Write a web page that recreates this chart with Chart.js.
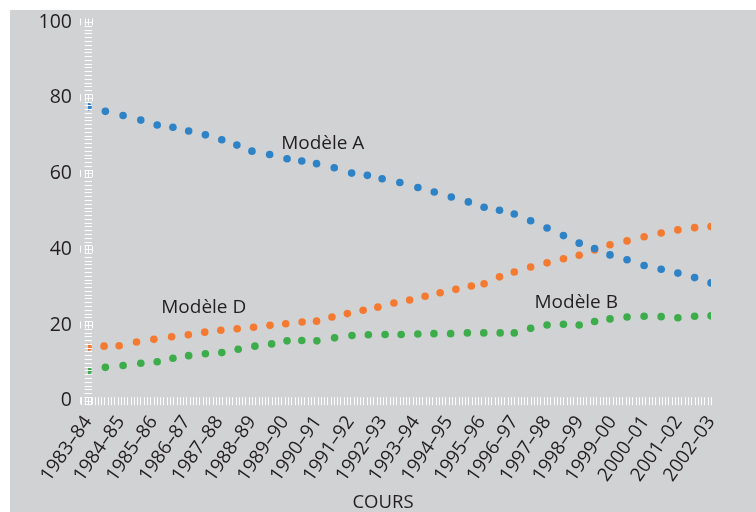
<!DOCTYPE html>
<html>
<head>
<meta charset="utf-8">
<script src="https://cdn.jsdelivr.net/npm/chart.js@4"></script>
<style>
    body { margin: 0; background: #ffffff; }
    #wrap { position: absolute; left: 10px; top: 10px; width: 746px; height: 502px; background: #d1d2d4; }
</style>
</head>
<body>
<div id="wrap"><canvas id="chart" width="746" height="502"></canvas></div>
<script>
// Season labels on the x axis
const seasons = ["1983–84", "1984–85", "1985–86", "1986–87", "1987–88", "1988–89", "1989–90",
    "1990–91", "1991–92", "1992–93", "1993–94", "1994–95", "1995–96", "1996–97", "1997–98",
    "1998–99", "1999–00", "2000–01", "2001–02", "2002–03"];

const yTicks = [0, 20, 40, 60, 80, 100];

// x positions (in seasons from 1983-84) and values of each series
const xModeleA = [0, 0.53, 1.07, 1.61, 2.11, 2.59, 3.07, 3.58, 4.08, 4.54, 5.0, 5.54, 6.07, 6.52, 6.97,
    7.51, 8.04, 8.52, 8.97, 9.51, 10.06, 10.56, 11.08, 11.6, 12.08, 12.55, 13.0, 13.5, 14.0, 14.5,
    14.98, 15.45, 15.92, 16.44, 16.96, 17.48, 17.99, 18.5, 19.0];
const modeleA = [77.6, 76.4, 75.3, 74.1, 72.8, 72.2, 71.2, 70.2, 68.9, 67.5, 65.9, 65.0, 63.9, 63.3, 62.6,
    61.5, 60.1, 59.5, 58.6, 57.6, 56.3, 55.1, 53.8, 52.5, 51.1, 50.3, 49.3, 47.5, 45.6, 43.6,
    41.6, 40.2, 38.5, 37.2, 35.7, 34.7, 33.7, 32.5, 31.1];

const xModeleB = [0, 0.53, 1.07, 1.61, 2.11, 2.59, 3.07, 3.58, 4.08, 4.58, 5.09, 5.6, 6.07, 6.52, 6.98,
    7.52, 8.05, 8.55, 9.06, 9.55, 10.06, 10.55, 11.06, 11.57, 12.07, 12.57, 13.0, 13.5, 14.0, 14.5,
    14.98, 15.45, 15.92, 16.44, 16.96, 17.48, 17.99, 18.5, 19.0];
const modeleB = [7.9, 8.8, 9.3, 9.9, 10.3, 11.2, 11.9, 12.4, 12.7, 13.6, 14.4, 15.0, 15.8, 15.9, 15.8,
    16.6, 17.2, 17.4, 17.5, 17.5, 17.6, 17.7, 17.7, 17.9, 17.9, 17.9, 17.9, 19.1, 20.0, 20.2,
    20.0, 20.9, 21.6, 22.1, 22.3, 22.2, 21.9, 22.3, 22.4];

const xModeleD = [0, 0.49, 0.95, 1.48, 2.01, 2.55, 3.06, 3.56, 4.05, 4.55, 5.05, 5.55, 6.03, 6.53, 6.97,
    7.44, 7.91, 8.39, 8.84, 9.33, 9.81, 10.28, 10.74, 11.22, 11.69, 12.08, 12.55, 13.0, 13.5, 14.0,
    14.5, 14.98, 15.45, 15.92, 16.44, 16.96, 17.48, 17.99, 18.5, 19.0];
const modeleD = [14.1, 14.4, 14.5, 15.5, 16.2, 16.9, 17.4, 18.1, 18.6, 19.0, 19.4, 19.9, 20.3, 20.8, 21.0,
    22.1, 23.0, 23.9, 24.7, 25.8, 26.6, 27.6, 28.5, 29.4, 30.3, 30.9, 32.7, 34.0, 35.3, 36.4,
    37.5, 38.4, 39.8, 41.2, 42.2, 43.3, 44.3, 45.1, 45.7, 46.0];

// In-chart labels, placed in data units
const labelNames = ["Modèle A", "Modèle D", "Modèle B"];
const labelX = [7.16, 3.53, 14.89];
const labelY = [68, 24.5, 26.0];

const TEXT = "#231f20";
const FONT = "'Open Sans', 'DejaVu Sans', sans-serif";

function points(xs, ys) {
    return xs.map((x, i) => ({ x: x, y: ys[i] }));
}

// White tick bands on both axes, drawn over the points
const axisBands = {
    id: "axisBands",
    afterDatasetsDraw(chart) {
        const ctx = chart.ctx;
        const xs = chart.scales.x, ys = chart.scales.y;
        const x0 = xs.getPixelForValue(0), y0 = ys.getPixelForValue(0);
        ctx.save();
        ctx.strokeStyle = "rgba(255,255,255,0.95)";
        ctx.lineWidth = 1;
        ctx.beginPath();
        // y axis: one dash per unit
        for (let v = -1; v <= 100; v++) {
            const y = Math.round(ys.getPixelForValue(v)) + 0.5;
            ctx.moveTo(x0 - 3.5, y);
            ctx.lineTo(x0 + 4, y);
        }
        // x axis: one dash per tenth of a season
        for (let k = -2; k <= 190; k++) {
            const x = Math.round(xs.getPixelForValue(k / 10)) + 0.5;
            ctx.moveTo(x, y0 - 3.5);
            ctx.lineTo(x, y0 + 4.5);
        }
        // major marks
        yTicks.forEach(v => {
            const y = ys.getPixelForValue(v);
            [-8, -3.5, 0, 4].forEach(dx => {
                const x = Math.round(x0 + dx) + 0.5;
                ctx.moveTo(x, y - 3.5);
                ctx.lineTo(x, y + 3.5);
            });
        });
        ctx.stroke();
        ctx.restore();
    },
    afterDraw(chart) {
        const ctx = chart.ctx;
        const xs = chart.scales.x, ys = chart.scales.y;
        ctx.save();
        ctx.fillStyle = TEXT;
        ctx.textAlign = "center";
        ctx.textBaseline = "middle";
        ctx.font = "19px " + FONT;
        labelNames.forEach((t, i) => {
            ctx.fillText(t, xs.getPixelForValue(labelX[i]), ys.getPixelForValue(labelY[i]));
        });
        ctx.font = "18.5px " + FONT;
        ctx.fillText("COURS", chart.width / 2, 493);
        ctx.restore();
    }
};

const ctx = document.getElementById("chart").getContext("2d");

new Chart(ctx, {
    type: "scatter",
    data: {
        datasets: [
            { label: "Modèle A", data: points(xModeleA, modeleA), backgroundColor: "#2e82c6" },
            { label: "Modèle D", data: points(xModeleD, modeleD), backgroundColor: "#f47a32" },
            { label: "Modèle B", data: points(xModeleB, modeleB), backgroundColor: "#3cad4a" }
        ]
    },
    options: {
        responsive: false,
        animation: false,
        layout: { padding: { left: 0, right: 45, top: 12, bottom: 0 } },
        elements: { point: { radius: 3.8, borderWidth: 0, hoverRadius: 3.8 } },
        plugins: { legend: { display: false }, tooltip: { enabled: false } },
        scales: {
            x: {
                type: "linear",
                min: 0,
                max: 19,
                grid: { display: false, drawTicks: false },
                border: { display: false },
                afterFit: s => { s.height = 111.3; s.paddingRight = 0; },
                ticks: {
                    stepSize: 1,
                    autoSkip: false,
                    minRotation: 55,
                    maxRotation: 55,
                    padding: 11,
                    color: TEXT,
                    font: { size: 19, family: FONT },
                    callback: v => seasons[v] ?? ""
                }
            },
            y: {
                min: 0,
                max: 100,
                grid: { display: false, drawTicks: false },
                border: { display: false },
                afterFit: s => { s.width = 78; s.paddingTop = 0; s.paddingBottom = 0; },
                ticks: {
                    stepSize: 20,
                    padding: 16,
                    color: TEXT,
                    font: { size: 19.5, family: FONT }
                }
            }
        }
    },
    plugins: [axisBands]
});
</script>
</body>
</html>
